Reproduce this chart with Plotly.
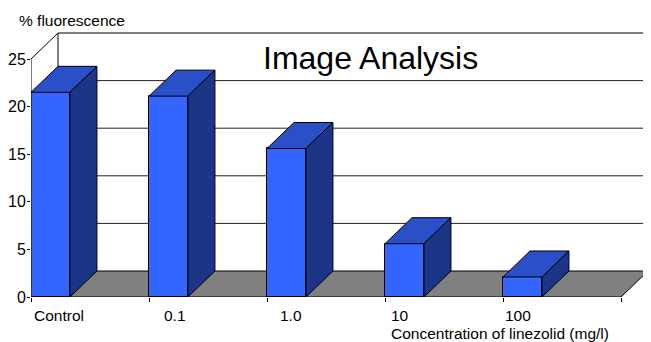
import plotly.graph_objects as go

# ---- data ----
categories = ["Control", "0.1", "1.0", "10", "100"]
fluorescence = [21.5, 21.1, 15.6, 5.6, 2.1]
y_ticks = [0, 5, 10, 15, 20, 25]
title_text = "Image Analysis"
y_title = "% fluorescence"
x_title = "Concentration of linezolid (mg/l)"

# ---- style / layout constants ----
FRONT = "#3366FF"
TOP = "#2A50C8"
SIDE = "#1C3586"
FLOOR = "#808080"
BAR_W = 0.33          # bar width in category units
DX = 27 / 118         # depth offset (category units)
DY = 26 / 9.52        # depth offset (value units)
YMAX = 25
FONT = "Liberation Sans, Arial, sans-serif"
label_x = [0.008, 1.11, 2.09, 3.03, 4.0]   # label positions (category units)

n = len(categories)
fig = go.Figure()

shapes = []

def path(pts):
    return "M " + " L ".join(f"{x},{y}" for x, y in pts) + " Z"

# back wall (white) and left side wall
shapes.append(dict(type="path", layer="below",
                   path=path([(DX, DY), (n + DX, DY), (n + DX, YMAX + DY), (DX, YMAX + DY)]),
                   fillcolor="white", line=dict(width=0)))
# floor
shapes.append(dict(type="path", layer="below",
                   path=path([(0, 0), (n, 0), (n + DX, DY), (DX, DY)]),
                   fillcolor=FLOOR, line=dict(width=0)))
# gridlines on back wall
for t in y_ticks[1:-1]:
    shapes.append(dict(type="line", layer="below", x0=DX, x1=n + DX, y0=t + DY, y1=t + DY,
                       line=dict(color="#222222", width=1)))
# wall outlines
edge = dict(color="black", width=1)
shapes.append(dict(type="line", layer="below", x0=DX, x1=n + DX, y0=YMAX + DY, y1=YMAX + DY, line=edge))
shapes.append(dict(type="line", layer="below", x0=n + DX, x1=n + DX, y0=DY, y1=YMAX + DY,
                   line=dict(color="#777777", width=1)))
shapes.append(dict(type="line", layer="below", x0=DX, x1=DX, y0=DY, y1=YMAX + DY, line=edge))
shapes.append(dict(type="line", layer="below", x0=0, x1=DX, y0=YMAX, y1=YMAX + DY, line=edge))
shapes.append(dict(type="line", layer="below", x0=DX, x1=n + DX, y0=DY, y1=DY, line=edge))
shapes.append(dict(type="line", layer="below", x0=n, x1=n + DX, y0=0, y1=DY, line=edge))
shapes.append(dict(type="line", layer="below", x0=0, x1=DX, y0=0, y1=DY, line=edge))

# bar 3D faces
for i, v in enumerate(fluorescence):
    x0, x1 = i, i + BAR_W
    shapes.append(dict(type="path", layer="above",
                       path=path([(x0, v), (x1, v), (x1 + DX, v + DY), (x0 + DX, v + DY)]),
                       fillcolor=TOP, line=dict(color="black", width=1)))
    shapes.append(dict(type="path", layer="above",
                       path=path([(x1, 0), (x1, v), (x1 + DX, v + DY), (x1 + DX, DY)]),
                       fillcolor=SIDE, line=dict(color="black", width=1)))

# front axis lines
shapes.append(dict(type="line", layer="above", x0=0, x1=0, y0=0, y1=YMAX, line=edge))
shapes.append(dict(type="line", layer="above", x0=0, x1=n, y0=0, y1=0, line=edge))

fig.add_trace(go.Bar(
    x=[i + BAR_W / 2 for i in range(n)],
    y=fluorescence,
    width=BAR_W,
    marker=dict(color=FRONT, line=dict(color="black", width=1)),
    hovertext=categories,
    showlegend=False,
))

annotations = []
for lx, c in zip(label_x, categories):
    annotations.append(dict(text=c, x=lx, y=-0.0675, xref="x", yref="paper",
                            xanchor="left", yanchor="middle", showarrow=False,
                            font=dict(size=15.5, color="black", family=FONT)))
for t in y_ticks:
    annotations.append(dict(text=str(t), x=-4 / 620, y=t, xref="paper", yref="y",
                            xanchor="right", yanchor="middle", showarrow=False,
                            borderpad=0, xshift=0,
                            font=dict(size=16, color="black", family=FONT)))
annotations.append(dict(text=x_title, x=3.034, y=-0.13, xref="x", yref="paper",
                        xanchor="left", yanchor="middle", showarrow=False,
                        font=dict(size=15.5, color="black", family=FONT)))
annotations.append(dict(text=y_title, x=-0.0226, y=1.0, xref="paper", yref="paper",
                        xanchor="left", yanchor="middle", showarrow=False,
                        font=dict(size=15.5, color="black", family=FONT)))
annotations.append(dict(text=title_text, x=2.877, y=0.863, xref="x", yref="paper",
                        xanchor="center", yanchor="middle", showarrow=False,
                        font=dict(size=32, color="black", family=FONT)))

# page body has an 8px margin, so the figure is 8px smaller and margins shifted
fig.update_layout(
    width=643, height=334,
    margin=dict(l=23, r=0, t=12, b=45, autoexpand=False),
    paper_bgcolor="white", plot_bgcolor="white",
    shapes=shapes, annotations=annotations,
    xaxis=dict(range=[0, 620 / 118], showgrid=False, zeroline=False, showline=False,
               tickvals=list(range(n + 1)), ticks="outside", ticklen=4, tickcolor="black",
               showticklabels=False, fixedrange=True, automargin=False),
    yaxis=dict(range=[0, 277 / 9.52], showgrid=False, zeroline=False, showline=False,
               tickvals=y_ticks, ticks="outside", ticklen=3, tickcolor="black",
               showticklabels=False, fixedrange=True, automargin=False),
    bargap=0,
)

fig.write_html("out.html")
